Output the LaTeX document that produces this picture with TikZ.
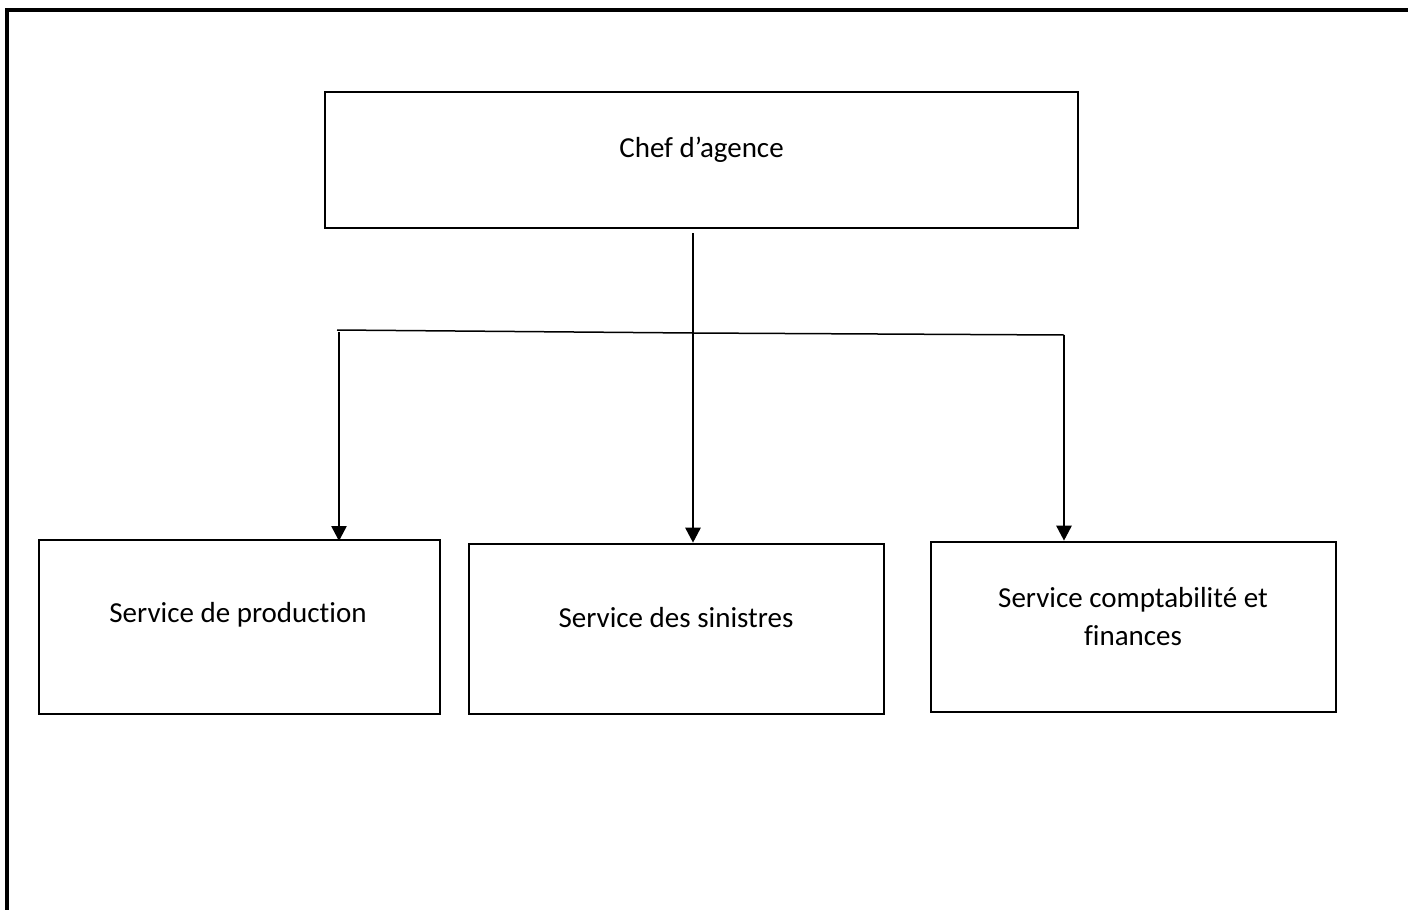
\documentclass[tikz,border=0pt]{standalone}
\usepackage{fontspec}
\setmainfont[Ligatures={NoCommon}]{Carlito}
\usetikzlibrary{arrows.meta}
\begin{document}
\begin{tikzpicture}[x=1pt,y=-1pt,
  box/.style={draw,line width=2.6pt,inner sep=0pt},
  lbl/.style={align=center,inner sep=0pt,font=\fontsize{29}{38}\selectfont},
  conn/.style={line width=1.5pt},
  arr/.style={line width=2.6pt,-{Triangle[length=15pt,width=15pt]}}]
\useasboundingbox (0,0) rectangle (1408,910);
\draw[line width=3.2pt] (7,910) -- (7,10) -- (1408,10);
\node[box,minimum width=753pt,minimum height=136pt] (chef) at (701.5,160) {};
\node[box,minimum width=401pt,minimum height=174pt] (prod) at (239.5,627) {};
\node[box,minimum width=415pt,minimum height=170pt] (sin) at (676.5,629) {};
\node[box,minimum width=405pt,minimum height=170pt] (compta) at (1133.5,627) {};
\node[lbl] (tchef) at (701.5,150) {Chef d’agence};
\node[lbl] (tprod) at (238,615) {Service de production};
\node[lbl] (tsin) at (676,618) {Service des sinistres};
\node[lbl] (tcompta) at (1133,617) {Service comptabilité et\\finances};
\coordinate (jL) at (337,330);
\coordinate (jM) at (693,333);
\coordinate (jR) at (1064,335);
\draw[conn] (jL) -- (jM) -- (jR);
\draw[conn] (chef.south -| jM) ++(0,4) -- (jM);
\draw[arr] (339,332) -- (339,541);
\draw[arr] (jM) -- (jM |- sin.north);
\draw[arr] (jR) -- (jR |- compta.north);
\end{tikzpicture}
\end{document}
